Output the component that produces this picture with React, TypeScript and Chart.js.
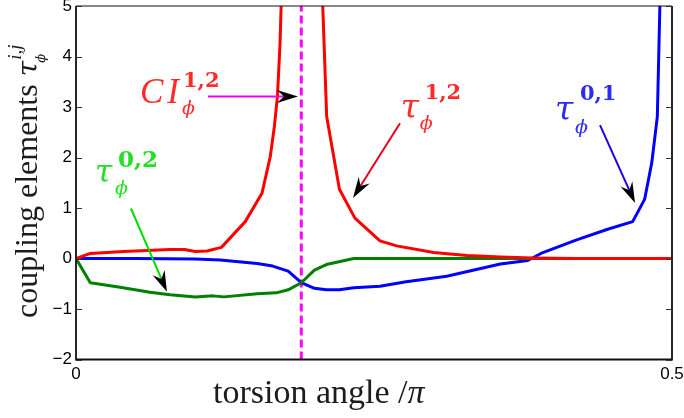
import { useEffect, useRef } from 'react';
import { Chart, registerables } from 'chart.js';

Chart.register(...registerables);

// ---- canvas / plot box -------------------------------------------------
const W = 684;
const H = 418;
const PLOT_LEFT = 76;
const PLOT_TOP = 6;
const PLOT_RIGHT = 672;
const PLOT_BOTTOM = 359.5;

// ---- axis ranges & ticks -----------------------------------------------
const xMin = 0;
const xMax = 0.5;
const yMin = -2;
const yMax = 5;
const xTicks = [0, 0.5];
const yTicks = [-2, -1, 0, 1, 2, 3, 4, 5];

// ---- coupling elements vs torsion angle (units of pi) -------------------
// tau^{1,2}: diverges at the conical intersection
const angle12 = [0, 0.012, 0.04, 0.079, 0.091, 0.1, 0.11, 0.122, 0.142, 0.156, 0.163, 0.1664, 0.169, 0.1712, 0.1745, 0.204, 0.2103, 0.221, 0.234, 0.255, 0.269, 0.3, 0.328, 0.356, 0.383, 0.42, 0.5];
const tau12 = [0, 0.1, 0.14, 0.18, 0.18, 0.14, 0.15, 0.22, 0.73, 1.29, 2.02, 2.61, 3.21, 4.27, 7.0, 7.0, 2.81, 1.37, 0.8, 0.35, 0.25, 0.12, 0.06, 0.03, 0.01, 0, 0];

// tau^{0,1}
const angle01 = [0, 0.05, 0.1, 0.121, 0.152, 0.165, 0.178, 0.189, 0.2, 0.21, 0.221, 0.233, 0.255, 0.277, 0.311, 0.356, 0.379, 0.39, 0.42, 0.446, 0.467, 0.477, 0.483, 0.4877, 0.4913];
const tau01 = [0, 0, -0.01, -0.03, -0.1, -0.15, -0.25, -0.48, -0.59, -0.62, -0.62, -0.58, -0.55, -0.46, -0.35, -0.11, -0.04, 0.1, 0.37, 0.58, 0.73, 1.17, 1.89, 2.81, 6.5];

// tau^{0,2}
const angle02 = [0, 0.012, 0.037, 0.062, 0.079, 0.1, 0.115, 0.124, 0.152, 0.168, 0.178, 0.189, 0.2, 0.21, 0.233, 0.3, 0.5];
const tau02 = [0, -0.48, -0.57, -0.67, -0.72, -0.76, -0.74, -0.76, -0.7, -0.68, -0.62, -0.48, -0.23, -0.12, 0, 0, 0];

// position of the conical intersection
const ciAngle = 0.189;

// ---- colours -----------------------------------------------------------
const RED = '#ff0000';
const BLUE = '#0000ff';
const GREEN = '#008000';
const MAGENTA = '#ff00ff';

const TICK_FONT = { family: '"Liberation Sans", Arial, sans-serif', size: 17 };

type Pt = [number, number];

interface MathLabel {
  at: Pt; // data coords of the main glyph's baseline start
  color: string;
  main: string;
  mainFont: string;
  spacing?: string;
  sup: string;
  supFont: string;
  supOff: Pt; // pixel offset from anchor
  sub: string;
  subFont: string;
  subOff: Pt;
}

interface Arrow {
  from: Pt;
  to: Pt;
  color: string;
}

const TAU_FONT = 'italic 33px "DejaVu Serif"';
const SUP_FONT = 'bold 21px "DejaVu Serif"';
const SUB_FONT = 'italic 19px "DejaVu Serif"';

const labels: MathLabel[] = [
  {
    at: [0.0537, 3.08], color: '#ff2a2a', main: 'CI', mainFont: 'italic 35px "Liberation Serif"', spacing: '4px',
    sup: '1,2', supFont: SUP_FONT, supOff: [43, -16],
    sub: '\u03d5', subFont: SUB_FONT, subOff: [42, 11],
  },
  {
    at: [0.2724, 2.78], color: '#ff2a2a', main: '\u03c4', mainFont: TAU_FONT,
    sup: '1,2', supFont: SUP_FONT, supOff: [24, -19],
    sub: '\u03d5', subFont: SUB_FONT, subOff: [19, 11],
  },
  {
    at: [0.4018, 2.74], color: '#2a2aff', main: '\u03c4', mainFont: TAU_FONT,
    sup: '0,1', supFont: SUP_FONT, supOff: [25, -20],
    sub: '\u03d5', subFont: SUB_FONT, subOff: [20, 13],
  },
  {
    at: [0.0159, 1.51], color: '#22e022', main: '\u03c4', mainFont: 'italic 31px "DejaVu Serif"',
    sup: '0,2', supFont: 'bold 23px "DejaVu Serif"', supOff: [23, -15],
    sub: '\u03d5', subFont: SUB_FONT, subOff: [20, 12],
  },
];

const arrows: Arrow[] = [
  { from: [0.1107, 3.21], to: [0.1862, 3.21], color: '#ee00ee' },
  { from: [0.2718, 2.68], to: [0.2324, 1.2], color: '#e8001e' },
  { from: [0.4396, 2.64], to: [0.469, 1.1], color: '#2200e0' },
  { from: [0.0461, 0.99], to: [0.0763, -0.66], color: '#00dd00' },
];

function pts(xs: number[], ys: number[]) {
  return xs.map((x, i) => ({ x, y: ys[i] }));
}

function drawArrow(ctx: CanvasRenderingContext2D, x0: number, y0: number, x1: number, y1: number, color: string) {
  const len = 21;
  const half = 6.5;
  const notch = 7;
  const a = Math.atan2(y1 - y0, x1 - x0);
  ctx.save();
  ctx.strokeStyle = color;
  ctx.lineWidth = 2;
  ctx.lineCap = 'butt';
  ctx.beginPath();
  ctx.moveTo(x0, y0);
  ctx.lineTo(x1 - Math.cos(a) * (len - notch), y1 - Math.sin(a) * (len - notch));
  ctx.stroke();
  ctx.translate(x1, y1);
  ctx.rotate(a);
  ctx.fillStyle = '#000';
  ctx.beginPath();
  ctx.moveTo(0, 0);
  ctx.lineTo(-len, -half);
  ctx.lineTo(-len + notch, 0);
  ctx.lineTo(-len, half);
  ctx.closePath();
  ctx.fill();
  ctx.restore();
}

const decorations = {
  id: 'decorations',
  afterDraw(chart: Chart) {
    const { ctx, chartArea, scales } = chart;
    const { left, right, top, bottom } = chartArea;
    const xs = scales.x;
    const ys = scales.y;

    ctx.save();
    // axes box
    ctx.strokeStyle = '#111';
    ctx.lineWidth = 1.2;
    ctx.beginPath();
    ctx.moveTo(left, top);
    ctx.lineTo(right, top);
    ctx.stroke();
    ctx.lineWidth = 1.8;
    ctx.beginPath();
    ctx.moveTo(right, top);
    ctx.lineTo(right, bottom);
    ctx.lineTo(left, bottom);
    ctx.lineTo(left, top);
    ctx.stroke();

    // inward tick marks on both y sides
    ctx.lineWidth = 1;
    ctx.strokeStyle = '#333';
    for (const v of yTicks) {
      const y = Math.round(ys.getPixelForValue(v)) + 0.5;
      ctx.beginPath();
      ctx.moveTo(left, y);
      ctx.lineTo(left + 6, y);
      ctx.moveTo(right, y);
      ctx.lineTo(right - 6, y);
      ctx.stroke();
    }

    // axis titles
    ctx.fillStyle = '#1c1c1c';
    ctx.textBaseline = 'alphabetic';
    ctx.textAlign = 'left';
    ctx.font = '34px "Liberation Serif"';
    const xt = 'torsion angle /';
    ctx.fillText(xt, 213, 403);
    const xtw = ctx.measureText(xt).width;
    ctx.font = 'italic 34px "Liberation Serif"';
    ctx.fillText('\u03c0', 213 + xtw, 403);

    ctx.save();
    ctx.translate(37, 318);
    ctx.rotate(-Math.PI / 2);
    ctx.font = '32px "Liberation Serif"';
    const yt = 'coupling elements ';
    ctx.fillText(yt, 0, 0);
    let u = ctx.measureText(yt).width;
    ctx.font = 'italic 28px "DejaVu Serif"';
    ctx.fillText('\u03c4', u, 0);
    u += ctx.measureText('\u03c4').width;
    ctx.font = 'italic 19px "Liberation Serif"';
    ctx.fillText('i,j', u + 1, -16);
    ctx.font = 'italic 13px "DejaVu Serif"';
    ctx.fillText('\u03d5', u - 2, 8);
    ctx.restore();

    // arrows
    for (const a of arrows) {
      drawArrow(
        ctx,
        xs.getPixelForValue(a.from[0]), ys.getPixelForValue(a.from[1]),
        xs.getPixelForValue(a.to[0]), ys.getPixelForValue(a.to[1]),
        a.color,
      );
    }

    // curve labels
    for (const l of labels) {
      const px = xs.getPixelForValue(l.at[0]);
      const py = ys.getPixelForValue(l.at[1]);
      ctx.fillStyle = l.color;
      ctx.font = l.mainFont;
      (ctx as any).letterSpacing = l.spacing ?? '0px';
      ctx.fillText(l.main, px, py);
      (ctx as any).letterSpacing = '0px';
      ctx.font = l.supFont;
      ctx.fillText(l.sup, px + l.supOff[0], py + l.supOff[1]);
      ctx.font = l.subFont;
      ctx.fillText(l.sub, px + l.subOff[0], py + l.subOff[1]);
    }
    ctx.restore();
  },
};

export default function App() {
  const ref = useRef<HTMLCanvasElement>(null);

  useEffect(() => {
    if (!ref.current) return;
    const chart = new Chart(ref.current, {
      type: 'line',
      data: {
        datasets: [
          { data: pts(angle12, tau12), borderColor: RED, borderWidth: 3 },
          { data: pts(angle02, tau02), borderColor: GREEN, borderWidth: 3 },
          { data: pts(angle01, tau01), borderColor: BLUE, borderWidth: 3 },
          {
            data: [{ x: ciAngle, y: yMin }, { x: ciAngle, y: yMax }],
            borderColor: MAGENTA,
            borderWidth: 3,
            borderDash: [8, 4],
          },
        ],
      },
      options: {
        responsive: false,
        animation: false,
        devicePixelRatio: 1,
        layout: { padding: { left: 0, top: PLOT_TOP, right: W - PLOT_RIGHT, bottom: 0 } },
        elements: {
          point: { radius: 0, hoverRadius: 0 },
          line: { tension: 0, borderJoinStyle: 'round', fill: false },
        },
        plugins: {
          legend: { display: false },
          tooltip: { enabled: false },
        },
        events: [],
        scales: {
          x: {
            type: 'linear',
            min: xMin,
            max: xMax,
            grid: { display: false, drawTicks: false },
            border: { display: false },
            afterBuildTicks: (s: any) => {
              s.ticks = xTicks.map((v) => ({ value: v }));
            },
            afterFit: (s: any) => {
              s.height = H - PLOT_BOTTOM;
              s.paddingLeft = 0;
              s.paddingRight = 0;
            },
            ticks: {
              font: TICK_FONT,
              color: '#000',
              padding: 5,
              maxRotation: 0,
              autoSkip: false,
              callback: (v: any) => String(v),
            },
          },
          y: {
            type: 'linear',
            min: yMin,
            max: yMax,
            grid: { display: false, drawTicks: false },
            border: { display: false },
            afterBuildTicks: (s: any) => {
              s.ticks = yTicks.map((v) => ({ value: v }));
            },
            afterFit: (s: any) => {
              s.width = PLOT_LEFT;
              s.paddingTop = 0;
              s.paddingBottom = 0;
            },
            ticks: {
              font: TICK_FONT,
              color: '#000',
              padding: 4,
              callback: (v: any) => (v < 0 ? '\u2212' + Math.abs(v) : String(v)),
            },
          },
        },
      },
      plugins: [decorations],
    });
    return () => chart.destroy();
  }, []);

  return (
    <div style={{ position: 'fixed', left: 0, top: 0, width: W, height: H, background: '#fff' }}>
      <canvas ref={ref} width={W} height={H} style={{ display: 'block' }} />
    </div>
  );
}
